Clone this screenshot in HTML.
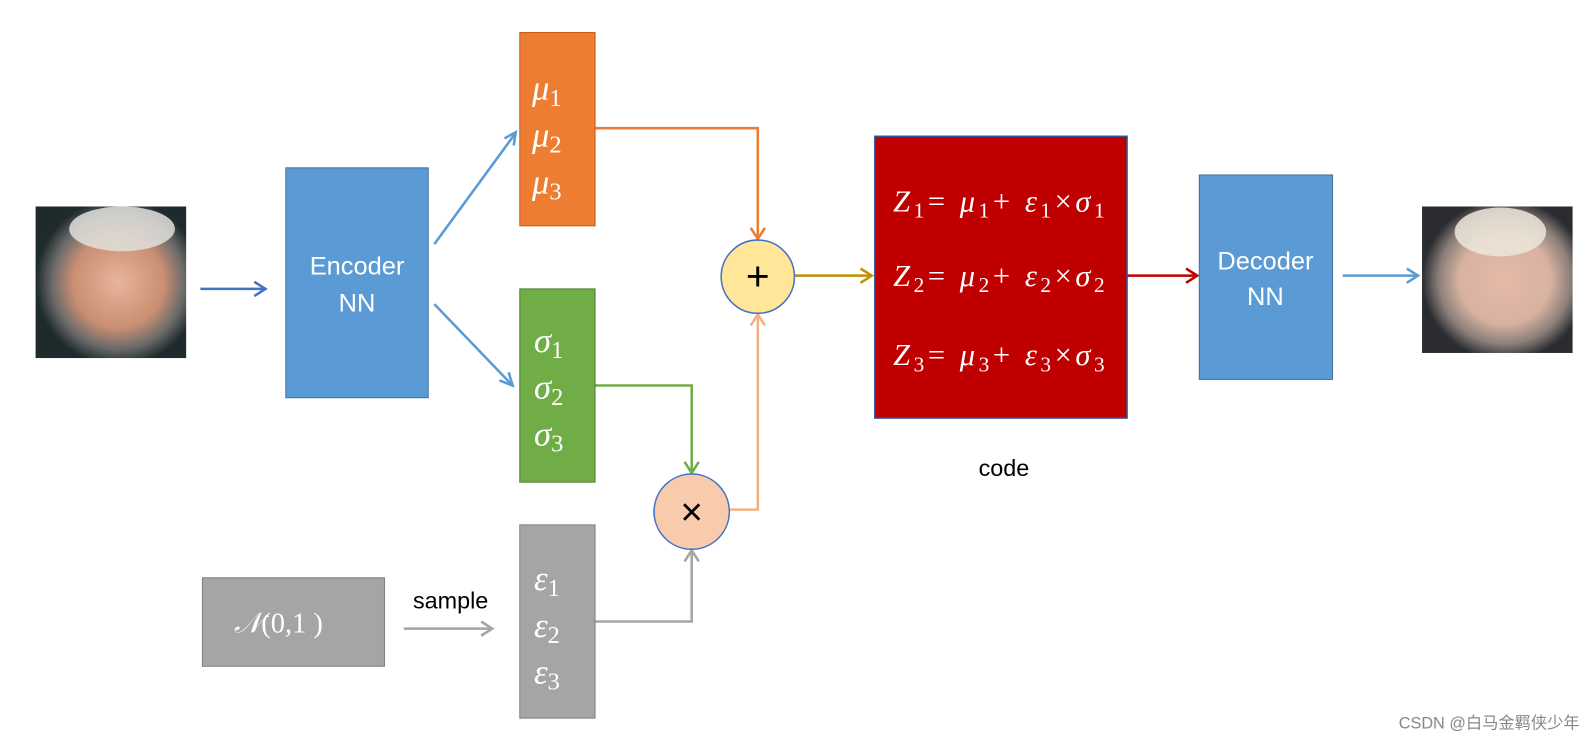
<!DOCTYPE html>
<html><head><meta charset="utf-8"><style>
html,body{margin:0;padding:0;background:#fff;width:1595px;height:742px;overflow:hidden}
svg{display:block}
.m{font-family:"Liberation Serif",serif;font-style:italic;fill:#fff}
.s{font-family:"Liberation Sans","Noto Sans CJK SC",sans-serif}
</style></head><body>
<svg width="1595" height="742" viewBox="0 0 1595 742" xmlns="http://www.w3.org/2000/svg">
<defs>
<radialGradient id="f1" cx="0.55" cy="0.5" r="0.55"><stop offset="0" stop-color="#e8b59c"/><stop offset="0.55" stop-color="#c98f72"/><stop offset="0.8" stop-color="#6a6a6a"/><stop offset="1" stop-color="#1e2a2c"/></radialGradient>
<radialGradient id="f2" cx="0.55" cy="0.5" r="0.55"><stop offset="0" stop-color="#e6b9a8"/><stop offset="0.55" stop-color="#d8b2a0"/><stop offset="0.8" stop-color="#8a7f7a"/><stop offset="1" stop-color="#2a2c30"/></radialGradient>
</defs>
<g transform="scale(1.0172)">
<rect x="35" y="203" width="148" height="149" fill="url(#f1)"/>
<ellipse cx="120" cy="225" rx="52" ry="22" fill="#e0e0dc" opacity="0.85"/>
<rect x="1398" y="203" width="148" height="144" fill="url(#f2)"/>
<ellipse cx="1475" cy="228" rx="45" ry="24" fill="#ece6da" opacity="0.85"/>

<g fill="none" stroke-width="2.5">
<line x1="197" y1="284" x2="260" y2="284" stroke="#4472c4"/>
<polyline points="250,277 261,284 250,291" stroke="#4472c4"/>
<line x1="427" y1="240" x2="506" y2="132" stroke="#5b9bd5"/>
<polyline points="496,136 507,130 505,143" stroke="#5b9bd5"/>
<line x1="427" y1="299" x2="502" y2="377" stroke="#5b9bd5"/>
<polyline points="491,374 504,379 500,366" stroke="#5b9bd5"/>
<polyline points="585,126 745,126 745,234" stroke="#ed7d31"/>
<polyline points="738,224 745,235 752,224" stroke="#ed7d31"/>
<polyline points="585,379 680,379 680,464" stroke="#70ad47"/>
<polyline points="673,454 680,465 687,454" stroke="#70ad47"/>
<polyline points="585,611 680,611 680,542" stroke="#a5a5a5"/>
<polyline points="673,552 680,541 687,552" stroke="#a5a5a5"/>
<polyline points="717,501 745,501 745,310" stroke="#f4b183"/>
<polyline points="738,320 745,309 752,320" stroke="#f4b183"/>
<line x1="781" y1="271" x2="856" y2="271" stroke="#bf9000"/>
<polyline points="846,264 857,271 846,278" stroke="#bf9000"/>
<line x1="1108" y1="271" x2="1176" y2="271" stroke="#c00000"/>
<polyline points="1166,264 1177,271 1166,278" stroke="#c00000"/>
<line x1="1320" y1="271" x2="1393" y2="271" stroke="#5b9bd5"/>
<polyline points="1383,264 1394,271 1383,278" stroke="#5b9bd5"/>
<line x1="397" y1="618" x2="483" y2="618" stroke="#a5a5a5"/>
<polyline points="473,611 484,618 473,625" stroke="#a5a5a5"/>
</g>

<rect x="281" y="165" width="140" height="226" fill="#5b9bd5" stroke="#41719c" stroke-width="1"/>
<text x="351" y="270" text-anchor="middle" class="s" font-size="25" fill="#fff">Encoder</text>
<text x="351" y="306" text-anchor="middle" class="s" font-size="25" fill="#fff">NN</text>

<rect x="511" y="32" width="74" height="190" fill="#ed7d31" stroke="#c55a11" stroke-width="1"/>
<text class="m" font-size="34"><tspan x="523" y="98">μ<tspan font-size="24" font-style="normal" dy="6">1</tspan></tspan><tspan x="523" y="144">μ<tspan font-size="24" font-style="normal" dy="6">2</tspan></tspan><tspan x="523" y="190">μ<tspan font-size="24" font-style="normal" dy="6">3</tspan></tspan></text>

<rect x="511" y="284" width="74" height="190" fill="#70ad47" stroke="#507e32" stroke-width="1"/>
<text class="m" font-size="34"><tspan x="525" y="346">σ<tspan font-size="24" font-style="normal" dy="6">1</tspan></tspan><tspan x="525" y="392">σ<tspan font-size="24" font-style="normal" dy="6">2</tspan></tspan><tspan x="525" y="438">σ<tspan font-size="24" font-style="normal" dy="6">3</tspan></tspan></text>

<rect x="511" y="516" width="74" height="190" fill="#a5a5a5" stroke="#7f7f7f" stroke-width="1"/>
<text class="m" font-size="34"><tspan x="525" y="580">ε<tspan font-size="24" font-style="normal" dy="6">1</tspan></tspan><tspan x="525" y="626">ε<tspan font-size="24" font-style="normal" dy="6">2</tspan></tspan><tspan x="525" y="672">ε<tspan font-size="24" font-style="normal" dy="6">3</tspan></tspan></text>

<rect x="199" y="568" width="179" height="87" fill="#a5a5a5" stroke="#7f7f7f" stroke-width="1"/>
<text x="230" y="622" class="m" font-size="28">𝒩<tspan font-style="normal">(0,1 )</tspan></text>
<text x="443" y="598" text-anchor="middle" class="s" font-size="23" fill="#000">sample</text>

<circle cx="745" cy="272" r="36" fill="#ffe699" stroke="#4472c4" stroke-width="1.5"/>
<text x="745" y="285" text-anchor="middle" class="s" font-size="40" fill="#000">+</text>
<circle cx="680" cy="503" r="37" fill="#f8cbad" stroke="#4472c4" stroke-width="1.5"/>
<text x="680" y="516" text-anchor="middle" class="s" font-size="38" fill="#000">×</text>

<rect x="860" y="134" width="248" height="277" fill="#c00000" stroke="#2f5597" stroke-width="1.5"/>
<g class="m" font-size="30">
<text x="878" y="208" textLength="208" lengthAdjust="spacing">Z<tspan font-size="21" font-style="normal" dy="6">1</tspan><tspan dy="-6" font-style="normal">= </tspan>μ<tspan font-size="21" font-style="normal" dy="6">1</tspan><tspan dy="-6" font-style="normal">+ </tspan>ε<tspan font-size="21" font-style="normal" dy="6">1</tspan><tspan dy="-6" font-style="normal">×</tspan>σ<tspan font-size="21" font-style="normal" dy="6">1</tspan></text>
<text x="878" y="281" textLength="208" lengthAdjust="spacing">Z<tspan font-size="21" font-style="normal" dy="6">2</tspan><tspan dy="-6" font-style="normal">= </tspan>μ<tspan font-size="21" font-style="normal" dy="6">2</tspan><tspan dy="-6" font-style="normal">+ </tspan>ε<tspan font-size="21" font-style="normal" dy="6">2</tspan><tspan dy="-6" font-style="normal">×</tspan>σ<tspan font-size="21" font-style="normal" dy="6">2</tspan></text>
<text x="878" y="359" textLength="208" lengthAdjust="spacing">Z<tspan font-size="21" font-style="normal" dy="6">3</tspan><tspan dy="-6" font-style="normal">= </tspan>μ<tspan font-size="21" font-style="normal" dy="6">3</tspan><tspan dy="-6" font-style="normal">+ </tspan>ε<tspan font-size="21" font-style="normal" dy="6">3</tspan><tspan dy="-6" font-style="normal">×</tspan>σ<tspan font-size="21" font-style="normal" dy="6">3</tspan></text>
</g>
<text x="987" y="468" text-anchor="middle" class="s" font-size="23" fill="#000">code</text>

<rect x="1179" y="172" width="131" height="201" fill="#5b9bd5" stroke="#41719c" stroke-width="1"/>
<text x="1244" y="265" text-anchor="middle" class="s" font-size="25" fill="#fff">Decoder</text>
<text x="1244" y="300" text-anchor="middle" class="s" font-size="25" fill="#fff">NN</text>

<text x="1553" y="716" text-anchor="end" class="s" font-size="16" fill="#888">CSDN @白马金羁侠少年</text>
</g>
</svg>
</body></html>
